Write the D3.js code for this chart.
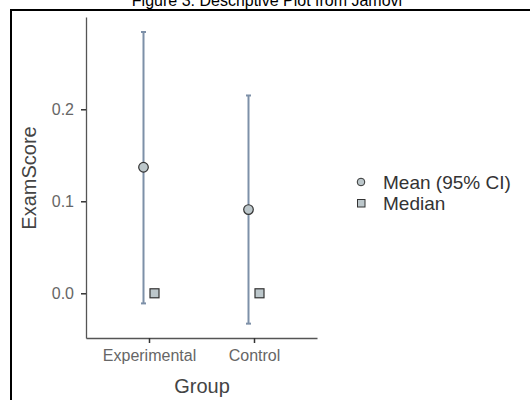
<!DOCTYPE html>
<html><head><meta charset="utf-8">
<script src="https://cdn.jsdelivr.net/npm/d3@7"></script>
<style>body{margin:0;background:#fff;}svg{display:block;font-family:Arial,"Liberation Sans",sans-serif;}</style>
</head><body>
<svg id="chart" width="530" height="400"></svg>
<script>
const title = "Figure 3: Descriptive Plot from Jamovi";
const groups = ["Experimental", "Control"];
const means = [0.137, 0.091];
const ciLower = [-0.011, -0.033];
const ciUpper = [0.284, 0.215];
const medians = [0.0, 0.0];
const yTicks = [0.0, 0.1, 0.2];
const legendLabels = ["Mean (95% CI)", "Median"];

const svg = d3.select("#chart");
const ptFill = "#bcc7cb", ptStroke = "#333", barColor = "#7d90a8";

// title (clipped at top, as in the reference)
svg.append("text").attr("x", 267).attr("y", 6).attr("text-anchor", "middle")
  .attr("font-size", 16).attr("fill", "#000").text(title);
// frame
svg.append("path").attr("d", "M11,400 L11,10 L530,10").attr("fill", "none")
  .attr("stroke", "#000").attr("stroke-width", 2);

const x = d3.scalePoint().domain(groups).range([86, 317]).padding(0.6);
const y = d3.scaleLinear().domain([-0.0486, 0.3003]).range([338, 17]);
const dodge = 5.5;

const yAxis = svg.append("g").attr("transform", "translate(86,0)")
  .call(d3.axisLeft(y).tickValues(yTicks).tickFormat(d3.format(".1f")).tickSize(5).tickSizeOuter(0));
const xAxis = svg.append("g").attr("transform", "translate(0,338)")
  .call(d3.axisBottom(x).tickSize(5).tickSizeOuter(0));
[yAxis, xAxis].forEach(a => {
  a.select(".domain").attr("stroke", "#555").attr("stroke-width", 1.3);
  a.selectAll(".tick line").attr("stroke", "#333").attr("stroke-width", 1.5);
  a.selectAll(".tick text").attr("fill", "#666").attr("font-size", 16)
    .attr("font-family", "Arial,'Liberation Sans',sans-serif");
});
yAxis.selectAll(".tick text").attr("x", -12);
xAxis.selectAll(".tick text").attr("y", 12);

svg.append("text").attr("x", 202).attr("y", 393).attr("text-anchor", "middle")
  .attr("font-size", 20).attr("fill", "#444").text("Group");
svg.append("text").attr("transform", "translate(36,178) rotate(-90)").attr("text-anchor", "middle")
  .attr("font-size", 20).attr("fill", "#444").text("ExamScore");

const g = svg.append("g");
groups.forEach((grp, i) => {
  const cx = x(grp) - dodge;
  g.append("line").attr("x1", cx).attr("x2", cx).attr("y1", y(ciLower[i])).attr("y2", y(ciUpper[i]))
    .attr("stroke", barColor).attr("stroke-width", 2);
  [ciLower[i], ciUpper[i]].forEach(v => {
    g.append("line").attr("x1", cx - 2.5).attr("x2", cx + 2.5).attr("y1", y(v)).attr("y2", y(v))
      .attr("stroke", barColor).attr("stroke-width", 2);
  });
  g.append("circle").attr("cx", cx).attr("cy", y(means[i])).attr("r", 4.8)
    .attr("fill", ptFill).attr("stroke", ptStroke).attr("stroke-width", 1.2);
  const mx = x(grp) + dodge;
  g.append("rect").attr("x", mx - 4.5).attr("y", y(medians[i]) - 4.5).attr("width", 9).attr("height", 9)
    .attr("fill", ptFill).attr("stroke", ptStroke).attr("stroke-width", 1.2);
});

// legend
const lg = svg.append("g");
lg.append("circle").attr("cx", 361).attr("cy", 182).attr("r", 3.8)
  .attr("fill", ptFill).attr("stroke", ptStroke).attr("stroke-width", 1);
lg.append("rect").attr("x", 357.5).attr("y", 199.5).attr("width", 7.5).attr("height", 7.5)
  .attr("fill", ptFill).attr("stroke", ptStroke).attr("stroke-width", 1);
[182, 203].forEach((yy, i) => {
  lg.append("text").attr("x", 383).attr("y", yy + 6.5).attr("font-size", 19).attr("fill", "#333").text(legendLabels[i]);
});
</script>
</body></html>
